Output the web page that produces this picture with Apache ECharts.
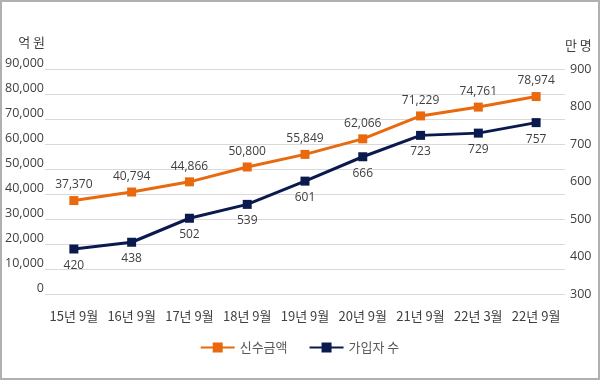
<!DOCTYPE html>
<html>
<head>
<meta charset="utf-8">
<script src="https://cdn.jsdelivr.net/npm/echarts@6/dist/echarts.min.js"></script>
<style>
html,body{margin:0;padding:0;background:#fff;}
#c{width:600px;height:380px;box-sizing:border-box;border:2px solid #b0b0b0;}
</style>
</head>
<body>
<div id="c"></div>
<script>
const categories = ['15년 9월','16년 9월','17년 9월','18년 9월','19년 9월','20년 9월','21년 9월','22년 3월','22년 9월'];
const amountName = '신수금액';
const amountValues = [37370, 40794, 44866, 50800, 55849, 62066, 71229, 74761, 78974];
const usersName = '가입자 수';
const usersValues = [420, 438, 502, 539, 601, 666, 723, 729, 757];
const leftUnit = '억 원';
const rightUnit = '만 명';

const FONT = '"Noto Sans CJK KR", "Noto Sans", sans-serif';
const chart = echarts.init(document.getElementById('c'), null, {renderer:'canvas'});
chart.setOption({
  animation:false,
  textStyle:{fontFamily:FONT},
  grid:{left:39, right:33, top:67, bottom:84},
  legend:{
    bottom:19, left:'center',
    itemWidth:34, itemHeight:10, itemGap:22,
    icon:'path://M0,4h12v-4h10v4h12v2h-12v4h-10v-4h-12z',
    textStyle:{fontFamily:FONT, fontSize:13, color:'#595959'},
    data:[amountName, usersName]
  },
  xAxis:{
    type:'category', data:categories, boundaryGap:true,
    axisLine:{show:false}, axisTick:{show:false},
    axisLabel:{fontFamily:FONT, fontSize:13, color:'#404040', margin:16, interval:0}
  },
  yAxis:[
    {type:'value', min:0, max:90000, interval:10000,
     name:leftUnit, nameLocation:'end', nameGap:20,
     nameTextStyle:{fontFamily:FONT, fontSize:13, color:'#404040', align:'right', padding:[0,0,0,0]},
     axisLine:{show:false}, axisTick:{show:false},
     axisLabel:{fontFamily:'"Open Sans", sans-serif', fontSize:12.5, color:'#404040', margin:1, align:'right', verticalAlign:'bottom', padding:[0,0,-1,0],
       formatter:v=>v.toLocaleString('en-US')},
     splitLine:{lineStyle:{color:'#d9d9d9', width:1}}},
    {type:'value', min:300, max:900, interval:100,
     name:rightUnit, nameLocation:'end', nameGap:17,
     nameTextStyle:{fontFamily:FONT, fontSize:13, color:'#404040', align:'left', padding:[0,0,0,0]},
     axisLine:{show:false}, axisTick:{show:false},
     axisLabel:{fontFamily:'"Open Sans", sans-serif', fontSize:12.5, color:'#404040', margin:5},
     splitLine:{show:false}}
  ],
  series:[
    {name:amountName, type:'line', yAxisIndex:0, data:amountValues,
     symbol:'rect', symbolSize:9,
     lineStyle:{color:'#E8690E', width:3}, itemStyle:{color:'#E8690E'},
     label:{show:true, position:'top', distance:5, fontFamily:'"Open Sans", sans-serif', fontSize:12, color:'#404040',
       formatter:p=>p.value.toLocaleString('en-US')}},
    {name:usersName, type:'line', yAxisIndex:1, data:usersValues,
     symbol:'rect', symbolSize:9,
     lineStyle:{color:'#0A1A4E', width:3}, itemStyle:{color:'#0A1A4E'},
     label:{show:true, position:'bottom', distance:6, fontFamily:'"Open Sans", sans-serif', fontSize:12, color:'#404040'}}
  ]
});
</script>
</body>
</html>
